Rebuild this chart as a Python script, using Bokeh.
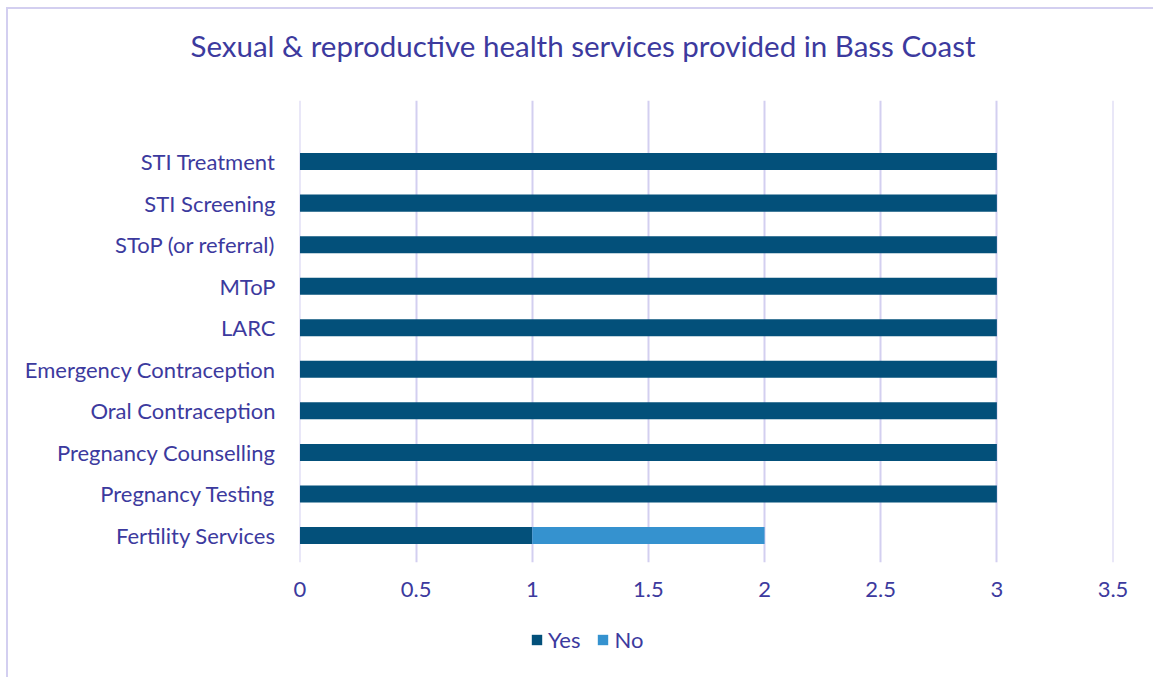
from bokeh.plotting import figure
from bokeh.models import (ColumnDataSource, Range1d, FixedTicker, NumeralTickFormatter,
                          Legend, LegendItem, Title, InlineStyleSheet)
from bokeh.layouts import column
from bokeh.embed import file_html
from bokeh.resources import INLINE

categories = ["Fertility Services", "Pregnancy Testing", "Pregnancy Counselling",
              "Oral Contraception", "Emergency Contraception", "LARC", "MToP",
              "SToP (or referral)", "STI Screening", "STI Treatment"]
yes_values = [1, 3, 3, 3, 3, 3, 3, 3, 3, 3]
no_values = [1, 0, 0, 0, 0, 0, 0, 0, 0, 0]
x_ticks = [0, 0.5, 1, 1.5, 2, 2.5, 3, 3.5]
series = ["Yes", "No"]
title_text = "Sexual & reproductive health services provided in Bass Coast"

TXT = "#3C3A9E"
GRID = "#D3CFF0"
COLORS = ["#03507A", "#3592CF"]
FONT = "Lato"
FS = "22px"


def blank(height):
    f = figure(width=1153, height=height, output_backend="svg", toolbar_location=None,
               x_range=Range1d(0, 1), y_range=Range1d(0, 1),
               min_border=0, x_axis_type=None, y_axis_type=None)
    f.outline_line_color = None
    f.grid.visible = False
    f.border_fill_color = "white"
    return f


# title strip (frame aligned with the chart frame by the column)
pt = blank(90)
pt.add_layout(Title(text=title_text, align="left", offset=-109, standoff=50,
                    text_color=TXT, text_font=FONT, text_font_size="29.5px",
                    text_font_style="normal"), "above")

pos = list(range(len(categories)))
src = ColumnDataSource(dict(y=pos, Yes=yes_values, No=no_values))

p = figure(width=1153, height=525, output_backend="svg", toolbar_location=None,
           x_range=Range1d(-0.002, 3.502), y_range=Range1d(-0.65, 10.47),
           min_border_left=299, min_border_right=40, min_border_top=10,
           min_border_bottom=53)
p.outline_line_color = None
p.background_fill_color = "white"
p.border_fill_color = "white"

r = p.hbar_stack(series, y="y", height=0.41, source=src,
                 color=COLORS, line_color=None)

p.ygrid.grid_line_color = None
p.xgrid.grid_line_color = GRID
p.xgrid.grid_line_width = 2
p.xgrid.ticker = FixedTicker(ticks=x_ticks)

p.xaxis.ticker = FixedTicker(ticks=x_ticks)
p.xaxis.formatter = NumeralTickFormatter(format="0.[0]")
p.xaxis.axis_line_color = None
p.xaxis.major_tick_line_color = None
p.xaxis.minor_tick_line_color = None
p.xaxis.major_label_standoff = 13
p.xaxis.major_label_text_color = TXT
p.xaxis.major_label_text_font = FONT
p.xaxis.major_label_text_font_size = FS

p.yaxis.ticker = FixedTicker(ticks=pos)
p.yaxis.major_label_overrides = {i: c for i, c in enumerate(categories)}
p.yaxis.axis_line_color = None
p.yaxis.major_tick_line_color = None
p.yaxis.minor_tick_line_color = None
p.yaxis.major_label_standoff = 18
p.yaxis.major_label_text_color = TXT
p.yaxis.major_label_text_font = FONT
p.yaxis.major_label_text_font_size = FS

# legend strip below the chart
pl = blank(62)
leg_r = [pl.hbar(y=[-5], right=[-5], height=0.4, color=c, line_color=None) for c in COLORS]
legend = Legend(items=[LegendItem(label=s, renderers=[rr]) for s, rr in zip(series, leg_r)],
                orientation="horizontal", location=(231, 24),
                border_line_color=None, background_fill_alpha=0,
                padding=0, margin=0, spacing=16, glyph_width=13, glyph_height=13,
                label_standoff=5, label_text_color=TXT, label_text_font=FONT,
                label_text_font_size=FS)
pl.add_layout(legend, "center")

lay = column(pt, p, pl, spacing=0)
lay.stylesheets = [InlineStyleSheet(css=":host::after { content: ''; position: absolute; "
                                    "left: 6px; top: 7px; width: 1147px; height: 670px; "
                                    "border-left: 2px solid #D3CFF0; border-top: 2px solid #D3CFF0; "
                                    "pointer-events: none; box-sizing: border-box; }")]

open("out.html", "w").write(file_html(lay, INLINE))
